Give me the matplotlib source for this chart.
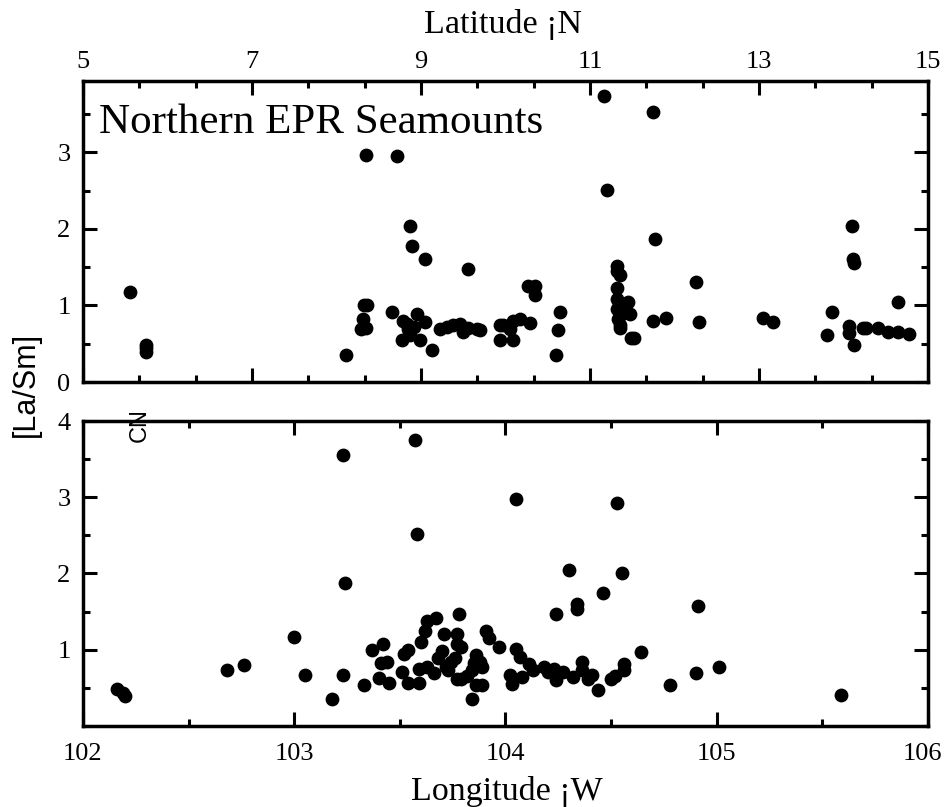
import numpy as np
import matplotlib.pyplot as plt
from matplotlib.ticker import MultipleLocator, FixedLocator
from matplotlib.transforms import ScaledTranslation

# top panel: La/Sm vs latitude (deg N)
latTop = [5.56, 5.75, 5.75, 5.75, 8.11, 8.35, 8.72, 8.87, 8.89, 9.05, 9.56,
          8.32, 8.36, 8.31, 8.29, 8.35, 8.66, 8.79, 8.95, 9.05, 8.85, 8.78,
          8.99, 8.87, 8.92, 8.83, 9.13, 9.22, 9.31, 9.38, 9.46, 9.50, 9.56,
          9.66, 9.70, 9.93, 9.93, 9.97, 10.05, 10.09, 10.17, 10.09, 10.29,
          10.27, 10.35, 10.35, 10.65, 10.62, 10.60, 11.17, 11.75, 11.20,
          11.77, 11.32, 11.32, 11.36, 11.32, 11.32, 11.34, 11.32, 11.35,
          11.33, 11.36, 11.36, 11.40, 11.45, 11.47, 11.48, 11.52, 11.75,
          11.90, 12.25, 12.29, 13.05, 13.17, 13.80, 13.86, 14.10, 14.11,
          14.13, 14.07, 14.07, 14.13, 14.23, 14.27, 14.41, 14.53, 14.64,
          14.78, 14.64]
lasmTop = [1.18, 0.49, 0.44, 0.39, 0.35, 2.97, 2.95, 2.04, 1.78, 1.61, 1.48,
           1.01, 1.01, 0.82, 0.69, 0.71, 0.92, 0.80, 0.89, 0.78, 0.69, 0.55,
           0.55, 0.62, 0.72, 0.76, 0.42, 0.69, 0.72, 0.75, 0.76, 0.65, 0.71,
           0.69, 0.68, 0.75, 0.55, 0.75, 0.69, 0.80, 0.82, 0.55, 0.77,
           1.26, 1.26, 1.14, 0.92, 0.68, 0.35, 3.74, 3.53, 2.51,
           1.87, 1.51, 1.45, 1.40, 1.23, 1.08, 1.00, 0.95, 0.88,
           0.82, 0.75, 0.71, 0.95, 1.04, 0.89, 0.58, 0.58, 0.80,
           0.84, 1.31, 0.78, 0.84, 0.78, 0.61, 0.91, 2.04, 1.60,
           1.56, 0.73, 0.64, 0.48, 0.71, 0.71, 0.71, 0.65, 0.65,
           0.63, 1.04]
latTicks = [5, 7, 9, 11, 13, 15]

# bottom panel: La/Sm vs longitude (deg W)
lonBot = [102.16, 102.20, 102.19, 102.68, 102.76, 103.00, 103.05, 103.18,
          103.23, 103.24, 103.23, 103.33, 103.57, 103.58, 103.37, 103.42,
          103.41, 103.44, 103.40, 103.45, 103.51, 103.52, 103.54, 103.54,
          103.59, 103.59, 103.60, 103.62, 103.63, 103.67, 103.63, 103.66,
          103.68, 103.70, 103.71, 103.72, 103.73, 103.74, 103.76, 103.77,
          103.78, 103.77, 103.79, 103.77, 103.79, 103.82, 103.84, 103.85,
          103.86, 103.88, 103.89, 103.86, 103.89, 103.84, 103.91, 103.92,
          103.97, 104.02, 104.03, 104.05, 104.07, 104.08, 104.11, 104.13,
          104.18, 104.20, 104.23, 104.24, 104.24, 104.27, 104.32, 104.36,
          104.36, 104.39, 104.41, 104.44, 104.50, 104.52, 104.56, 104.56,
          104.64, 104.78, 104.05, 104.53, 104.30, 104.55, 104.46, 104.24,
          104.34, 104.34, 104.91, 104.90, 105.01, 105.59]
lasmBot = [0.49, 0.39, 0.43, 0.74, 0.80, 1.17, 0.67, 0.35,
           3.55, 1.87, 0.67, 0.54, 3.75, 2.52, 1.00, 1.08,
           0.82, 0.84, 0.63, 0.57, 0.71, 0.95, 1.00, 0.57,
           0.57, 0.75, 1.10, 1.24, 1.38, 1.41, 0.78, 0.70,
           0.89, 0.98, 1.21, 0.78, 0.74, 0.84, 0.89, 1.21,
           1.47, 1.08, 1.04, 0.62, 0.62, 0.65, 0.74, 0.83,
           0.93, 0.84, 0.78, 0.54, 0.54, 0.35, 1.25, 1.15,
           1.04, 0.67, 0.55, 1.01, 0.91, 0.64, 0.81, 0.73,
           0.77, 0.71, 0.75, 0.68, 0.60, 0.71, 0.64, 0.84,
           0.74, 0.62, 0.67, 0.47, 0.61, 0.65, 0.81, 0.74,
           0.97, 0.54, 2.98, 2.92, 2.04, 2.01, 1.75, 1.47,
           1.54, 1.60, 1.57, 0.70, 0.77, 0.41]
lonTicks = [102, 103, 104, 105, 106]

plt.rcParams['font.family'] = 'Liberation Serif'
plt.rcParams['axes.linewidth'] = 2.5

fig = plt.figure(figsize=(9.45, 8.07), dpi=100)
ax1 = fig.add_axes([0.0878, 0.5266, 0.8942, 0.3730])
ax2 = fig.add_axes([0.0878, 0.1004, 0.8942, 0.3779])

def style(ax):
    ax.tick_params(which='both', direction='in', top=True, bottom=True,
                   left=True, right=True, labelsize=19, width=2.2)
    ax.tick_params(which='major', length=10)
    ax.tick_params(which='minor', length=5)

# top panel
ax1.scatter(latTop, lasmTop, s=80, color='black', zorder=3)
ax1.set_xlim(5, 15)
ax1.set_ylim(0, 3.93)
ax1.xaxis.set_major_locator(FixedLocator(latTicks))
ax1.xaxis.set_minor_locator(FixedLocator(np.arange(5, 15.01, 2 / 3)))
ax1.yaxis.set_major_locator(FixedLocator([0, 1, 2, 3]))
ax1.yaxis.set_minor_locator(MultipleLocator(0.5))
style(ax1)
ax1.tick_params(labelbottom=False, labeltop=True)
ax1.tick_params(axis='x', pad=6)
ax1.tick_params(axis='y', pad=9)
ax1.text(0.019, 0.827, 'Northern EPR Seamounts', transform=ax1.transAxes,
         fontsize=31, va='baseline', ha='left')

# bottom panel
ax2.scatter(lonBot, lasmBot, s=80, color='black', zorder=3)
ax2.set_xlim(102, 106)
ax2.set_ylim(0, 4)
ax2.xaxis.set_major_locator(FixedLocator(lonTicks))
ax2.xaxis.set_minor_locator(MultipleLocator(0.5))
ax2.yaxis.set_major_locator(FixedLocator([1, 2, 3, 4]))
ax2.yaxis.set_minor_locator(MultipleLocator(0.5))
style(ax2)
ax2.tick_params(axis='x', pad=12)
ax2.tick_params(axis='y', pad=9)

fig.text(503 / 945, 1 - 33 / 807, 'Latitude \u00a1N', fontsize=24.5,
         ha='center', va='baseline')
fig.text(507 / 945, 1 - 800 / 807, 'Longitude \u00a1W', fontsize=24.5,
         ha='center', va='baseline')
fig.text(26 / 945, 1 - 384 / 807, '[La/Sm]', fontsize=22, rotation=90,
         ha='center', va='center', family='Liberation Sans')
fig.text(139.5 / 945, 1 - 425.5 / 807, 'CN', fontsize=17, rotation=90,
         ha='center', va='center', family='Liberation Sans')

# nudge the last longitude label so it stays inside the figure
fig.canvas.draw()
lastLbl = ax2.xaxis.get_major_ticks()[-1].label1
lastLbl.set_transform(lastLbl.get_transform() +
                      ScaledTranslation(-4 / 72, 0, fig.dpi_scale_trans))

fig.savefig('out.png', dpi=100)
